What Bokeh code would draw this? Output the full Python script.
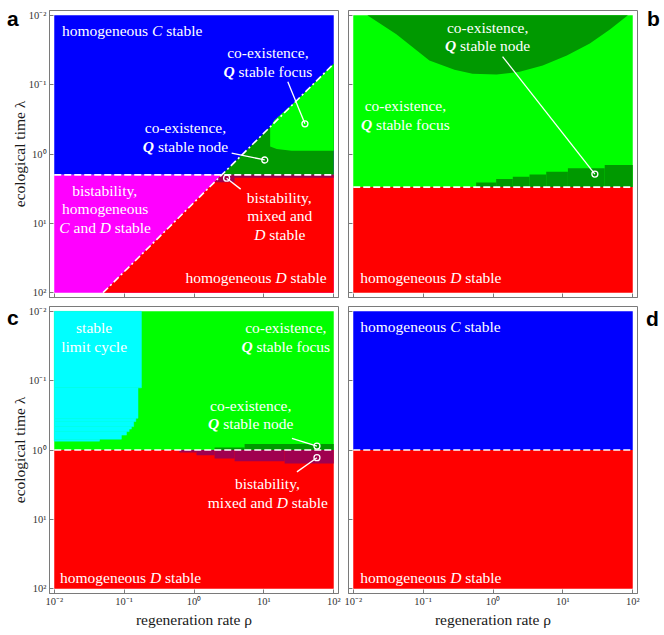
import re
from bokeh.plotting import figure
from bokeh.models import Range1d, FixedTicker, ColumnDataSource, Div, GridBox
from bokeh.core.properties import value, field
from bokeh.embed import file_html
from bokeh.resources import INLINE

# ---------------- data ----------------
RHO_MIN, RHO_MAX = 0.01, 100.0
LAM_MIN, LAM_MAX = 0.01, 100.0
tick_vals = [0.01, 0.1, 1, 10, 100]
tick_text = ["10⁻²", "10⁻¹", "10⁰", "10¹", "10²"]

# panel a
a_lam_crit = 2.0
a_diag_rho = [0.05, 2.5, 100.0]
a_diag_lam = [100.0, 2.0, 0.05]
a_focus_rho = [100.0, 30.0, 14.0, 12.3, 12.3, 15.3, 25.0, 100.0]
a_focus_lam = [0.05, 0.167, 0.33, 0.42, 0.78, 0.85, 0.895, 0.895]
a_mixed_rho = [2.5, 1.96, 3.8, 3.8, 100.0, 100.0]
a_mixed_lam = [2.0, 2.55, 2.55, 2.2, 2.2, 2.0]

# panel b
b_lam_crit = 3.0
b_node_rho = [0.0159, 0.0414, 0.123, 0.281, 0.509, 1.127, 2.41, 5.15, 11.4, 24.3, 47.1, 85.3]
b_node_lam = [0.01, 0.0188, 0.0449, 0.0607, 0.0693, 0.0716, 0.0649, 0.0531, 0.0380, 0.0255, 0.0160, 0.01]
b_wedge_rho = [0.574, 1.11, 1.92, 3.33, 5.78, 11.8, 39.7, 100.0]
b_wedge_lam = [2.57, 2.30, 2.13, 1.97, 1.80, 1.61, 1.44]

# panel c
c_lam_crit = 1.0
c_cycle_lam = [0.01, 0.127, 0.348, 0.389, 0.460, 0.499, 0.543, 0.610, 0.697, 0.745]
c_cycle_rho = [0.177, 0.158, 0.147, 0.137, 0.127, 0.118, 0.108, 0.0914, 0.0444]
c_node_rho = [1.97, 5.3, 100.0]
c_node_lam = [0.92, 0.82]
c_mixed_rho = [0.619, 1.086, 1.97, 3.81, 19.8, 100.0]
c_mixed_lam = [1.086, 1.19, 1.33, 1.455, 1.57]

# panel d
d_lam_crit = 1.0

# labels: (rho, lam, align, lines)   _x_ = italic, *x* = bold italic
labels_a = [
    (0.0129, 0.0165, "left", ["homogeneous _C_ stable"]),
    (11.4, 0.0344, "center", ["co-existence,", "*Q* stable focus"]),
    (0.755, 0.42, "center", ["co-existence,", "*Q* stable node"]),
    (0.0535, 3.33, "center", ["bistability,", "homogeneous", "_C_ and _D_ stable"]),
    (16.9, 4.2, "center", ["bistability,", "mixed and", "_D_ stable"]),
    (0.755, 60.7, "left", ["homogeneous _D_ stable"]),
]
leaders_a = [  # (rho_text_end, lam_text_end, rho_point, lam_point)
    (22.0, 0.0906, 38.7, 0.367),
    (3.46, 0.968, 10.3, 1.22),
    (4.66, 3.21, 2.93, 2.23),
]
labels_b = [
    (0.838, 0.0149, "center", ["co-existence,", "*Q* stable node"]),
    (0.0557, 0.201, "center", ["co-existence,", "*Q* stable focus"]),
    (0.0126, 60.7, "left", ["homogeneous _D_ stable"]),
]
leaders_b = [(1.37, 0.0393, 28.7, 1.95)]
labels_c = [
    (0.0372, 0.0171, "center", ["stable", "limit cycle"]),
    (20.6, 0.0171, "center", ["co-existence,", "*Q* stable focus"]),
    (6.48, 0.225, "center", ["co-existence,", "*Q* stable node"]),
    (11.4, 3.05, "center", ["bistability,", "mixed and _D_ stable"]),
    (0.0121, 68.7, "left", ["homogeneous _D_ stable"]),
]
leaders_c = [(25.2, 0.678, 57.5, 0.877), (29.7, 2.07, 57.5, 1.29)]
labels_d = [
    (0.0126, 0.0165, "left", ["homogeneous _C_ stable"]),
    (0.0126, 68.7, "left", ["homogeneous _D_ stable"]),
]

# ---------------- style ----------------
C_BLUE = "#0000ff"
C_RED = "#ff0000"
C_MAG = "#ff00ff"
C_LGREEN = "#00ff00"
C_DGREEN = "#009900"
C_CYAN = "#00ffff"
C_MAROON = "#a0004f"
FRAME_C = "#7a7a7a"
SERIF = "Liberation Serif"
FS = 15.5
LH = 18.5
FRAME_W = 289
FRAME_H = 287

TIMES = {' ': 250, ',': 250, '-': 333, '.': 250, 'a': 444, 'b': 500, 'c': 444, 'd': 500,
         'e': 444, 'f': 333, 'g': 500, 'h': 500, 'i': 278, 'j': 278, 'k': 500, 'l': 278,
         'm': 778, 'n': 500, 'o': 500, 'p': 500, 'q': 500, 'r': 333, 's': 389, 't': 278,
         'u': 500, 'v': 500, 'w': 722, 'x': 500, 'y': 500, 'z': 444}
SPECIAL = {('C', 'italic'): 667, ('D', 'italic'): 722, ('Q', 'bold italic'): 722}


def run_width(txt, style):
    return sum(SPECIAL.get((ch, style), TIMES.get(ch, 500)) for ch in txt) * FS / 1000.0


def label_source(labels):
    src = dict(x=[], y=[], text=[], xo=[], yo=[], style=[])
    for rho, lam, align, lines in labels:
        for i, line in enumerate(lines):
            runs = []
            for t in re.split(r'(_[^_]+_|\*[^*]+\*)', line):
                if not t:
                    continue
                if t.startswith('_'):
                    runs.append((t[1:-1], 'italic'))
                elif t.startswith('*'):
                    runs.append((t[1:-1], 'bold italic'))
                else:
                    runs.append((t, 'normal'))
            total = sum(run_width(t, s) for t, s in runs)
            x0 = -total / 2.0 if align == "center" else 0.0
            for t, s in runs:
                lead = len(t) - len(t.lstrip(' '))
                st = t.strip(' ')
                if st:
                    src['x'].append(rho)
                    src['y'].append(lam)
                    src['text'].append(st)
                    src['xo'].append(x0 + run_width(' ' * lead, 'normal'))
                    src['yo'].append(i * LH)
                    src['style'].append(s)
                x0 += run_width(t, s)
    return ColumnDataSource(src)


def make_fig(show_ylab, show_xlab, mbl, mbr, mbt, mbb):
    p = figure(x_axis_type="log", y_axis_type="log",
               x_range=Range1d(10 ** -2.068, 10 ** 2.068),
               y_range=Range1d(10 ** 2.07, 10 ** -2.07),
               frame_width=FRAME_W, frame_height=FRAME_H,
               min_border_left=mbl, min_border_right=mbr,
               min_border_top=mbt, min_border_bottom=mbb,
               output_backend="svg", toolbar_location=None,
               background_fill_color="white", border_fill_color="white")
    p.grid.visible = False
    p.outline_line_color = FRAME_C
    p.outline_line_width = 1
    for ax in (p.xaxis[0], p.yaxis[0]):
        ax.ticker = FixedTicker(ticks=tick_vals)
        ax.major_label_overrides = dict(zip(tick_vals, tick_text))
        ax.axis_line_color = FRAME_C
        ax.major_tick_line_color = FRAME_C
        ax.major_tick_in = 4
        ax.major_tick_out = 0
        ax.minor_tick_line_color = None
        ax.major_label_text_font = SERIF
        ax.major_label_text_font_size = "10.5px"
        ax.major_label_text_color = "#333333"
        ax.major_label_standoff = 3
        ax.axis_label_text_font = SERIF
        ax.axis_label_text_font_size = "15.5px"
        ax.axis_label_text_font_style = "normal"
        ax.axis_label_text_color = "#1a1a1a"
        ax.axis_label_standoff = 2
    if show_ylab:
        p.yaxis.axis_label = "ecological time λ"
        p.yaxis.axis_label_standoff = -2
    else:
        p.yaxis.major_label_overrides = {t: "" for t in tick_vals}
        p.yaxis.major_label_text_font_size = "0px"
        p.yaxis.major_label_standoff = 0
    if show_xlab:
        p.xaxis.axis_label = "regeneration rate ρ"
        p.xaxis.major_label_standoff = 2
        p.xaxis.axis_label_standoff = 1
    else:
        p.xaxis.major_label_overrides = {t: "" for t in tick_vals}
        p.xaxis.major_label_text_font_size = "0px"
        p.xaxis.major_label_standoff = 0
    return p


def hline(p, lam):
    p.line(x=[RHO_MIN, RHO_MAX], y=[lam, lam], line_color="white", line_width=1.6,
           line_dash="7 3")


def add_texts(p, labels, leaders):
    for (xe, ye, xp, yp) in leaders:
        p.segment(x0=[xe], y0=[ye], x1=[xp], y1=[yp], line_color="white", line_width=1.3)
        p.scatter(x=[xp], y=[yp], marker="circle", size=6, fill_color=None,
                  line_color="white", line_width=1.3)
    p.text(x="x", y="y", text="text", x_offset="xo", y_offset="yo",
           text_font_style=field("style"), text_font=value(SERIF),
           text_font_size=f"{FS}px", text_color="white", text_align="left",
           text_baseline="middle", source=label_source(labels))


def letter_div(letter, ml, mt):
    html = ('<span style="font-family: \'Liberation Sans\', Arial, sans-serif; '
            'font-weight: bold; font-size: 21px; line-height: 21px; color: #000;">'
            + letter + '</span>')
    return Div(text=html, width=13, height=22, margin=(mt, 0, 0, ml), align="start")


# ---------------- panel a ----------------
fa = make_fig(True, False, 49, 4, 10, 4)
fa.quad(left=[RHO_MIN], right=[RHO_MAX], top=[LAM_MIN], bottom=[a_lam_crit],
        fill_color=C_BLUE, line_color=None)
fa.quad(left=[RHO_MIN], right=[RHO_MAX], top=[a_lam_crit], bottom=[LAM_MAX],
        fill_color=C_MAG, line_color=None)
fa.patch(x=[a_diag_rho[0], a_diag_rho[1], RHO_MAX, RHO_MAX],
         y=[a_diag_lam[0], a_diag_lam[1], a_lam_crit, LAM_MAX],
         fill_color=C_RED, line_color=None)
fa.patch(x=[a_diag_rho[1], a_diag_rho[2], RHO_MAX],
         y=[a_diag_lam[1], a_diag_lam[2], a_lam_crit],
         fill_color=C_DGREEN, line_color=None)
fa.patch(x=a_focus_rho, y=a_focus_lam, fill_color=C_LGREEN, line_color=None)
fa.patch(x=a_mixed_rho, y=a_mixed_lam, fill_color=C_MAROON, line_color=None)
fa.line(x=[a_diag_rho[0], a_diag_rho[2]], y=[a_diag_lam[0], a_diag_lam[2]],
        line_color="white", line_width=1.6, line_dash="7 3 2 3")
hline(fa, a_lam_crit)
add_texts(fa, labels_a, leaders_a)

# ---------------- panel b ----------------
fb = make_fig(False, False, 6, 21, 10, 4)
fb.quad(left=[RHO_MIN], right=[RHO_MAX], top=[LAM_MIN], bottom=[b_lam_crit],
        fill_color=C_LGREEN, line_color=None)
fb.quad(left=[RHO_MIN], right=[RHO_MAX], top=[b_lam_crit], bottom=[LAM_MAX],
        fill_color=C_RED, line_color=None)
fb.patch(x=b_node_rho, y=b_node_lam, fill_color=C_DGREEN, line_color=None)
fb.quad(left=b_wedge_rho[:-1], right=b_wedge_rho[1:], top=b_wedge_lam,
        bottom=[b_lam_crit] * len(b_wedge_lam), fill_color=C_DGREEN, line_color=None)
hline(fb, b_lam_crit)
add_texts(fb, labels_b, leaders_b)

# ---------------- panel c ----------------
fc = make_fig(True, True, 49, 4, 5, 0)
fc.quad(left=[RHO_MIN], right=[RHO_MAX], top=[LAM_MIN], bottom=[c_lam_crit],
        fill_color=C_LGREEN, line_color=None)
fc.quad(left=[RHO_MIN], right=[RHO_MAX], top=[c_lam_crit], bottom=[LAM_MAX],
        fill_color=C_RED, line_color=None)
fc.quad(left=[RHO_MIN] * len(c_cycle_rho), right=c_cycle_rho, top=c_cycle_lam[:-1],
        bottom=c_cycle_lam[1:], fill_color=C_CYAN, line_color=C_CYAN, line_width=0.5)
fc.quad(left=c_node_rho[:-1], right=c_node_rho[1:], top=c_node_lam,
        bottom=[c_lam_crit] * len(c_node_lam), fill_color=C_DGREEN, line_color=None)
fc.quad(left=c_mixed_rho[:-1], right=c_mixed_rho[1:], top=[c_lam_crit] * len(c_mixed_lam),
        bottom=c_mixed_lam, fill_color=C_MAROON, line_color=None)
hline(fc, c_lam_crit)
add_texts(fc, labels_c, leaders_c)

# ---------------- panel d ----------------
fd = make_fig(False, True, 6, 21, 5, 0)
fd.quad(left=[RHO_MIN], right=[RHO_MAX], top=[LAM_MIN], bottom=[d_lam_crit],
        fill_color=C_BLUE, line_color=None)
fd.quad(left=[RHO_MIN], right=[RHO_MAX], top=[d_lam_crit], bottom=[LAM_MAX],
        fill_color=C_RED, line_color=None)
hline(fd, d_lam_crit)
add_texts(fd, labels_d, [])

layout = GridBox(children=[
    (fa, 0, 0), (fb, 0, 1), (fc, 1, 0), (fd, 1, 1),
    (letter_div("a", 7, 8), 0, 0), (letter_div("b", 305, 8), 0, 1),
    (letter_div("c", 7, 6), 1, 0), (letter_div("d", 304, 7), 1, 1),
], spacing=0)
open("out.html", "w").write(file_html(layout, INLINE))
